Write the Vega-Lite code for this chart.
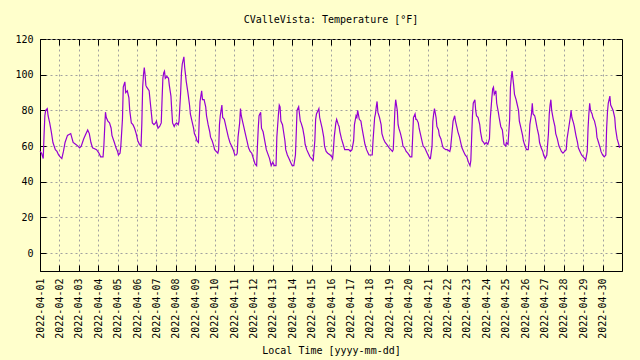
{
"$schema": "https://vega.github.io/schema/vega-lite/v6.json",
"autosize": {"type": "none"},
"padding": {"left": 40, "top": 39, "right": 18, "bottom": 89},
"width": 582, "height": 232,
"background": "#ffffcc",
"title": {"text": "CValleVista: Temperature [°F]", "anchor": "middle", "frame": "group", "offset": 9, "fontSize": 10, "fontWeight": "normal", "font": "DejaVu Sans Mono", "color": "#000000"},
"data": {"values": [
{"t":"2022-04-01T00:00","v":57},{"t":"2022-04-01T02:00","v":56},{"t":"2022-04-01T04:00","v":53},{"t":"2022-04-01T05:00","v":66},{"t":"2022-04-01T06:00","v":77},{"t":"2022-04-01T07:00","v":80},{"t":"2022-04-01T09:00","v":81},{"t":"2022-04-01T10:00","v":77},{"t":"2022-04-01T12:00","v":73},{"t":"2022-04-01T14:00","v":68},{"t":"2022-04-01T16:00","v":62},{"t":"2022-04-01T19:00","v":58},{"t":"2022-04-01T21:00","v":57},{"t":"2022-04-01T23:00","v":55},
{"t":"2022-04-02T01:00","v":54},{"t":"2022-04-02T03:00","v":53},{"t":"2022-04-02T05:00","v":57},{"t":"2022-04-02T07:00","v":62},{"t":"2022-04-02T10:00","v":66},{"t":"2022-04-02T14:00","v":67},{"t":"2022-04-02T17:00","v":62},{"t":"2022-04-02T20:00","v":61},{"t":"2022-04-02T23:00","v":60},
{"t":"2022-04-03T01:00","v":59},{"t":"2022-04-03T03:00","v":60},{"t":"2022-04-03T06:00","v":64},{"t":"2022-04-03T08:00","v":66},{"t":"2022-04-03T11:00","v":69},{"t":"2022-04-03T13:00","v":67},{"t":"2022-04-03T15:00","v":62},{"t":"2022-04-03T17:00","v":59},{"t":"2022-04-03T22:00","v":58},
{"t":"2022-04-04T01:00","v":56},{"t":"2022-04-04T03:00","v":54},{"t":"2022-04-04T06:00","v":54},{"t":"2022-04-04T07:00","v":60},{"t":"2022-04-04T08:00","v":70},{"t":"2022-04-04T09:00","v":79},{"t":"2022-04-04T10:00","v":76},{"t":"2022-04-04T12:00","v":74},{"t":"2022-04-04T14:00","v":73},{"t":"2022-04-04T16:00","v":70},{"t":"2022-04-04T17:00","v":66},{"t":"2022-04-04T20:00","v":62},{"t":"2022-04-04T22:00","v":59},
{"t":"2022-04-05T00:00","v":57},{"t":"2022-04-05T01:00","v":55},{"t":"2022-04-05T03:00","v":56},{"t":"2022-04-05T04:00","v":60},{"t":"2022-04-05T06:00","v":75},{"t":"2022-04-05T07:00","v":93},{"t":"2022-04-05T09:00","v":96},{"t":"2022-04-05T10:00","v":90},{"t":"2022-04-05T12:00","v":91},{"t":"2022-04-05T14:00","v":87},{"t":"2022-04-05T15:00","v":80},{"t":"2022-04-05T17:00","v":73},{"t":"2022-04-05T19:00","v":72},{"t":"2022-04-05T21:00","v":70},{"t":"2022-04-05T23:00","v":67},
{"t":"2022-04-06T01:00","v":63},{"t":"2022-04-06T03:00","v":61},{"t":"2022-04-06T05:00","v":60},{"t":"2022-04-06T06:00","v":73},{"t":"2022-04-06T07:00","v":93},{"t":"2022-04-06T08:00","v":100},{"t":"2022-04-06T09:00","v":104},{"t":"2022-04-06T10:00","v":100},{"t":"2022-04-06T11:00","v":94},{"t":"2022-04-06T12:00","v":93},{"t":"2022-04-06T15:00","v":91},{"t":"2022-04-06T17:00","v":82},{"t":"2022-04-06T19:00","v":73},{"t":"2022-04-06T21:00","v":72},{"t":"2022-04-06T23:00","v":73},
{"t":"2022-04-07T00:00","v":74},{"t":"2022-04-07T02:00","v":70},{"t":"2022-04-07T04:00","v":71},{"t":"2022-04-07T06:00","v":73},{"t":"2022-04-07T07:00","v":86},{"t":"2022-04-07T08:00","v":98},{"t":"2022-04-07T09:00","v":101},{"t":"2022-04-07T10:00","v":102},{"t":"2022-04-07T11:00","v":98},{"t":"2022-04-07T13:00","v":99},{"t":"2022-04-07T15:00","v":98},{"t":"2022-04-07T16:00","v":94},{"t":"2022-04-07T18:00","v":88},{"t":"2022-04-07T19:00","v":80},{"t":"2022-04-07T20:00","v":73},{"t":"2022-04-07T22:00","v":71},{"t":"2022-04-07T23:00","v":72},
{"t":"2022-04-08T01:00","v":73},{"t":"2022-04-08T03:00","v":72},{"t":"2022-04-08T04:00","v":74},{"t":"2022-04-08T06:00","v":90},{"t":"2022-04-08T07:00","v":101},{"t":"2022-04-08T08:00","v":106},{"t":"2022-04-08T10:00","v":110},{"t":"2022-04-08T11:00","v":104},{"t":"2022-04-08T12:00","v":100},{"t":"2022-04-08T13:00","v":96},{"t":"2022-04-08T15:00","v":90},{"t":"2022-04-08T17:00","v":83},{"t":"2022-04-08T18:00","v":78},{"t":"2022-04-08T20:00","v":74},{"t":"2022-04-08T22:00","v":70},{"t":"2022-04-08T23:00","v":67},
{"t":"2022-04-09T01:00","v":65},{"t":"2022-04-09T02:00","v":63},{"t":"2022-04-09T04:00","v":62},{"t":"2022-04-09T05:00","v":75},{"t":"2022-04-09T06:00","v":85},{"t":"2022-04-09T07:00","v":88},{"t":"2022-04-09T08:00","v":91},{"t":"2022-04-09T09:00","v":86},{"t":"2022-04-09T11:00","v":86},{"t":"2022-04-09T13:00","v":82},{"t":"2022-04-09T14:00","v":77},{"t":"2022-04-09T16:00","v":72},{"t":"2022-04-09T18:00","v":68},{"t":"2022-04-09T19:00","v":65},{"t":"2022-04-09T21:00","v":63},{"t":"2022-04-09T23:00","v":60},
{"t":"2022-04-10T00:00","v":58},{"t":"2022-04-10T02:00","v":57},{"t":"2022-04-10T04:00","v":56},{"t":"2022-04-10T05:00","v":58},{"t":"2022-04-10T06:00","v":72},{"t":"2022-04-10T07:00","v":77},{"t":"2022-04-10T08:00","v":80},{"t":"2022-04-10T09:00","v":83},{"t":"2022-04-10T10:00","v":76},{"t":"2022-04-10T12:00","v":75},{"t":"2022-04-10T13:00","v":73},{"t":"2022-04-10T15:00","v":69},{"t":"2022-04-10T17:00","v":65},{"t":"2022-04-10T19:00","v":62},{"t":"2022-04-10T21:00","v":60},{"t":"2022-04-10T23:00","v":58},
{"t":"2022-04-11T01:00","v":55},{"t":"2022-04-11T03:00","v":55},{"t":"2022-04-11T04:00","v":56},{"t":"2022-04-11T05:00","v":65},{"t":"2022-04-11T07:00","v":73},{"t":"2022-04-11T08:00","v":81},{"t":"2022-04-11T09:00","v":77},{"t":"2022-04-11T11:00","v":73},{"t":"2022-04-11T12:00","v":71},{"t":"2022-04-11T14:00","v":67},{"t":"2022-04-11T16:00","v":63},{"t":"2022-04-11T18:00","v":59},{"t":"2022-04-11T20:00","v":57},{"t":"2022-04-11T22:00","v":56},
{"t":"2022-04-12T00:00","v":53},{"t":"2022-04-12T02:00","v":50},{"t":"2022-04-12T04:00","v":49},{"t":"2022-04-12T05:00","v":60},{"t":"2022-04-12T06:00","v":70},{"t":"2022-04-12T07:00","v":77},{"t":"2022-04-12T09:00","v":79},{"t":"2022-04-12T10:00","v":70},{"t":"2022-04-12T12:00","v":68},{"t":"2022-04-12T14:00","v":63},{"t":"2022-04-12T16:00","v":58},{"t":"2022-04-12T20:00","v":53},{"t":"2022-04-12T22:00","v":49},
{"t":"2022-04-13T00:00","v":51},{"t":"2022-04-13T02:00","v":49},{"t":"2022-04-13T04:00","v":49},{"t":"2022-04-13T05:00","v":65},{"t":"2022-04-13T07:00","v":78},{"t":"2022-04-13T08:00","v":83},{"t":"2022-04-13T09:00","v":82},{"t":"2022-04-13T10:00","v":74},{"t":"2022-04-13T12:00","v":72},{"t":"2022-04-13T13:00","v":69},{"t":"2022-04-13T15:00","v":63},{"t":"2022-04-13T16:00","v":58},{"t":"2022-04-13T18:00","v":55},{"t":"2022-04-13T20:00","v":53},{"t":"2022-04-13T22:00","v":51},
{"t":"2022-04-14T00:00","v":49},{"t":"2022-04-14T02:00","v":49},{"t":"2022-04-14T04:00","v":55},{"t":"2022-04-14T05:00","v":67},{"t":"2022-04-14T06:00","v":80},{"t":"2022-04-14T07:00","v":81},{"t":"2022-04-14T08:00","v":82},{"t":"2022-04-14T10:00","v":74},{"t":"2022-04-14T11:00","v":73},{"t":"2022-04-14T13:00","v":70},{"t":"2022-04-14T15:00","v":65},{"t":"2022-04-14T16:00","v":61},{"t":"2022-04-14T18:00","v":58},{"t":"2022-04-14T20:00","v":56},{"t":"2022-04-14T22:00","v":54},
{"t":"2022-04-15T00:00","v":53},{"t":"2022-04-15T02:00","v":52},{"t":"2022-04-15T04:00","v":63},{"t":"2022-04-15T05:00","v":75},{"t":"2022-04-15T06:00","v":78},{"t":"2022-04-15T08:00","v":80},{"t":"2022-04-15T09:00","v":81},{"t":"2022-04-15T10:00","v":76},{"t":"2022-04-15T11:00","v":74},{"t":"2022-04-15T13:00","v":70},{"t":"2022-04-15T15:00","v":65},{"t":"2022-04-15T16:00","v":60},{"t":"2022-04-15T18:00","v":57},{"t":"2022-04-15T20:00","v":56},{"t":"2022-04-15T23:00","v":55},
{"t":"2022-04-16T01:00","v":54},{"t":"2022-04-16T02:00","v":53},{"t":"2022-04-16T03:00","v":58},{"t":"2022-04-16T04:00","v":65},{"t":"2022-04-16T06:00","v":73},{"t":"2022-04-16T07:00","v":75},{"t":"2022-04-16T09:00","v":72},{"t":"2022-04-16T10:00","v":71},{"t":"2022-04-16T11:00","v":68},{"t":"2022-04-16T13:00","v":64},{"t":"2022-04-16T15:00","v":61},{"t":"2022-04-16T17:00","v":58},{"t":"2022-04-16T19:00","v":58},{"t":"2022-04-16T22:00","v":58},
{"t":"2022-04-17T00:00","v":57},{"t":"2022-04-17T02:00","v":58},{"t":"2022-04-17T04:00","v":63},{"t":"2022-04-17T05:00","v":72},{"t":"2022-04-17T07:00","v":77},{"t":"2022-04-17T08:00","v":76},{"t":"2022-04-17T09:00","v":80},{"t":"2022-04-17T11:00","v":75},{"t":"2022-04-17T13:00","v":74},{"t":"2022-04-17T14:00","v":71},{"t":"2022-04-17T16:00","v":66},{"t":"2022-04-17T18:00","v":61},{"t":"2022-04-17T20:00","v":58},{"t":"2022-04-17T22:00","v":56},{"t":"2022-04-17T23:00","v":55},
{"t":"2022-04-18T01:00","v":55},{"t":"2022-04-18T03:00","v":55},{"t":"2022-04-18T04:00","v":63},{"t":"2022-04-18T06:00","v":76},{"t":"2022-04-18T07:00","v":78},{"t":"2022-04-18T08:00","v":82},{"t":"2022-04-18T09:00","v":85},{"t":"2022-04-18T10:00","v":79},{"t":"2022-04-18T12:00","v":76},{"t":"2022-04-18T14:00","v":72},{"t":"2022-04-18T15:00","v":67},{"t":"2022-04-18T17:00","v":64},{"t":"2022-04-18T19:00","v":62},{"t":"2022-04-18T21:00","v":61},
{"t":"2022-04-19T00:00","v":59},{"t":"2022-04-19T02:00","v":58},{"t":"2022-04-19T04:00","v":57},{"t":"2022-04-19T05:00","v":58},{"t":"2022-04-19T06:00","v":68},{"t":"2022-04-19T07:00","v":80},{"t":"2022-04-19T08:00","v":86},{"t":"2022-04-19T10:00","v":80},{"t":"2022-04-19T11:00","v":72},{"t":"2022-04-19T12:00","v":70},{"t":"2022-04-19T14:00","v":67},{"t":"2022-04-19T16:00","v":63},{"t":"2022-04-19T17:00","v":60},{"t":"2022-04-19T19:00","v":59},{"t":"2022-04-19T21:00","v":57},{"t":"2022-04-19T23:00","v":56},
{"t":"2022-04-20T02:00","v":54},{"t":"2022-04-20T04:00","v":54},{"t":"2022-04-20T05:00","v":65},{"t":"2022-04-20T06:00","v":76},{"t":"2022-04-20T08:00","v":78},{"t":"2022-04-20T09:00","v":75},{"t":"2022-04-20T10:00","v":75},{"t":"2022-04-20T12:00","v":73},{"t":"2022-04-20T13:00","v":70},{"t":"2022-04-20T15:00","v":66},{"t":"2022-04-20T17:00","v":62},{"t":"2022-04-20T18:00","v":60},{"t":"2022-04-20T20:00","v":59},{"t":"2022-04-20T22:00","v":57},
{"t":"2022-04-21T00:00","v":55},{"t":"2022-04-21T02:00","v":53},{"t":"2022-04-21T03:00","v":53},{"t":"2022-04-21T05:00","v":60},{"t":"2022-04-21T06:00","v":74},{"t":"2022-04-21T07:00","v":78},{"t":"2022-04-21T08:00","v":81},{"t":"2022-04-21T10:00","v":76},{"t":"2022-04-21T11:00","v":71},{"t":"2022-04-21T13:00","v":69},{"t":"2022-04-21T14:00","v":66},{"t":"2022-04-21T16:00","v":64},{"t":"2022-04-21T18:00","v":60},{"t":"2022-04-21T19:00","v":59},{"t":"2022-04-21T22:00","v":58},
{"t":"2022-04-22T00:00","v":58},{"t":"2022-04-22T03:00","v":57},{"t":"2022-04-22T04:00","v":59},{"t":"2022-04-22T06:00","v":69},{"t":"2022-04-22T07:00","v":74},{"t":"2022-04-22T09:00","v":77},{"t":"2022-04-22T10:00","v":74},{"t":"2022-04-22T12:00","v":70},{"t":"2022-04-22T13:00","v":68},{"t":"2022-04-22T15:00","v":65},{"t":"2022-04-22T17:00","v":61},{"t":"2022-04-22T18:00","v":59},{"t":"2022-04-22T20:00","v":57},{"t":"2022-04-22T22:00","v":55},
{"t":"2022-04-23T00:00","v":54},{"t":"2022-04-23T02:00","v":51},{"t":"2022-04-23T04:00","v":49},{"t":"2022-04-23T05:00","v":52},{"t":"2022-04-23T06:00","v":65},{"t":"2022-04-23T07:00","v":77},{"t":"2022-04-23T08:00","v":84},{"t":"2022-04-23T10:00","v":86},{"t":"2022-04-23T11:00","v":80},{"t":"2022-04-23T12:00","v":77},{"t":"2022-04-23T14:00","v":76},{"t":"2022-04-23T16:00","v":72},{"t":"2022-04-23T17:00","v":68},{"t":"2022-04-23T19:00","v":63},{"t":"2022-04-23T21:00","v":62},{"t":"2022-04-23T22:00","v":61},
{"t":"2022-04-24T00:00","v":62},{"t":"2022-04-24T02:00","v":61},{"t":"2022-04-24T04:00","v":64},{"t":"2022-04-24T05:00","v":75},{"t":"2022-04-24T07:00","v":87},{"t":"2022-04-24T08:00","v":92},{"t":"2022-04-24T09:00","v":93},{"t":"2022-04-24T10:00","v":89},{"t":"2022-04-24T12:00","v":91},{"t":"2022-04-24T13:00","v":84},{"t":"2022-04-24T15:00","v":79},{"t":"2022-04-24T16:00","v":76},{"t":"2022-04-24T18:00","v":71},{"t":"2022-04-24T20:00","v":69},{"t":"2022-04-24T21:00","v":65},{"t":"2022-04-24T22:00","v":61},
{"t":"2022-04-25T00:00","v":60},{"t":"2022-04-25T01:00","v":62},{"t":"2022-04-25T03:00","v":61},{"t":"2022-04-25T05:00","v":75},{"t":"2022-04-25T06:00","v":93},{"t":"2022-04-25T07:00","v":98},{"t":"2022-04-25T08:00","v":102},{"t":"2022-04-25T10:00","v":94},{"t":"2022-04-25T11:00","v":89},{"t":"2022-04-25T13:00","v":86},{"t":"2022-04-25T14:00","v":84},{"t":"2022-04-25T16:00","v":80},{"t":"2022-04-25T17:00","v":74},{"t":"2022-04-25T19:00","v":70},{"t":"2022-04-25T21:00","v":66},{"t":"2022-04-25T22:00","v":63},
{"t":"2022-04-26T00:00","v":60},{"t":"2022-04-26T02:00","v":58},{"t":"2022-04-26T04:00","v":58},{"t":"2022-04-26T05:00","v":63},{"t":"2022-04-26T06:00","v":72},{"t":"2022-04-26T08:00","v":78},{"t":"2022-04-26T09:00","v":84},{"t":"2022-04-26T10:00","v":78},{"t":"2022-04-26T12:00","v":77},{"t":"2022-04-26T13:00","v":75},{"t":"2022-04-26T15:00","v":70},{"t":"2022-04-26T17:00","v":66},{"t":"2022-04-26T18:00","v":62},{"t":"2022-04-26T20:00","v":59},{"t":"2022-04-26T22:00","v":57},{"t":"2022-04-26T23:00","v":55},
{"t":"2022-04-27T01:00","v":53},{"t":"2022-04-27T03:00","v":55},{"t":"2022-04-27T05:00","v":67},{"t":"2022-04-27T06:00","v":78},{"t":"2022-04-27T07:00","v":83},{"t":"2022-04-27T08:00","v":86},{"t":"2022-04-27T09:00","v":80},{"t":"2022-04-27T11:00","v":75},{"t":"2022-04-27T13:00","v":71},{"t":"2022-04-27T14:00","v":67},{"t":"2022-04-27T16:00","v":64},{"t":"2022-04-27T18:00","v":60},{"t":"2022-04-27T19:00","v":59},{"t":"2022-04-27T21:00","v":57},{"t":"2022-04-27T23:00","v":56},
{"t":"2022-04-28T01:00","v":57},{"t":"2022-04-28T03:00","v":58},{"t":"2022-04-28T04:00","v":64},{"t":"2022-04-28T06:00","v":70},{"t":"2022-04-28T08:00","v":76},{"t":"2022-04-28T09:00","v":80},{"t":"2022-04-28T10:00","v":76},{"t":"2022-04-28T12:00","v":73},{"t":"2022-04-28T13:00","v":71},{"t":"2022-04-28T15:00","v":66},{"t":"2022-04-28T17:00","v":62},{"t":"2022-04-28T18:00","v":59},{"t":"2022-04-28T20:00","v":57},{"t":"2022-04-28T22:00","v":55},
{"t":"2022-04-29T00:00","v":54},{"t":"2022-04-29T02:00","v":53},{"t":"2022-04-29T03:00","v":52},{"t":"2022-04-29T05:00","v":57},{"t":"2022-04-29T06:00","v":70},{"t":"2022-04-29T07:00","v":78},{"t":"2022-04-29T08:00","v":84},{"t":"2022-04-29T09:00","v":80},{"t":"2022-04-29T11:00","v":78},{"t":"2022-04-29T12:00","v":76},{"t":"2022-04-29T14:00","v":74},{"t":"2022-04-29T16:00","v":70},{"t":"2022-04-29T17:00","v":65},{"t":"2022-04-29T19:00","v":62},{"t":"2022-04-29T21:00","v":59},{"t":"2022-04-29T22:00","v":57},
{"t":"2022-04-30T00:00","v":55},{"t":"2022-04-30T02:00","v":54},{"t":"2022-04-30T04:00","v":55},{"t":"2022-04-30T05:00","v":70},{"t":"2022-04-30T06:00","v":79},{"t":"2022-04-30T07:00","v":84},{"t":"2022-04-30T09:00","v":88},{"t":"2022-04-30T10:00","v":83},{"t":"2022-04-30T11:00","v":82},{"t":"2022-04-30T13:00","v":80},{"t":"2022-04-30T15:00","v":76},{"t":"2022-04-30T16:00","v":70},{"t":"2022-04-30T18:00","v":64},{"t":"2022-04-30T20:00","v":61},{"t":"2022-04-30T21:00","v":59}
]},
"layer": [
{"mark": {"type": "line", "color": "#9400d3", "strokeWidth": 1.2},
 "encoding": {
  "x": {"field": "t", "type": "temporal",
        "scale": {"domain": [{"year":2022,"month":4,"date":1},{"year":2022,"month":5,"date":1}], "nice": false},
        "axis": {"orient": "bottom", "values": [{"year":2022,"month":4,"date":1},{"year":2022,"month":4,"date":2},{"year":2022,"month":4,"date":3},{"year":2022,"month":4,"date":4},{"year":2022,"month":4,"date":5},{"year":2022,"month":4,"date":6},{"year":2022,"month":4,"date":7},{"year":2022,"month":4,"date":8},{"year":2022,"month":4,"date":9},{"year":2022,"month":4,"date":10},{"year":2022,"month":4,"date":11},{"year":2022,"month":4,"date":12},{"year":2022,"month":4,"date":13},{"year":2022,"month":4,"date":14},{"year":2022,"month":4,"date":15},{"year":2022,"month":4,"date":16},{"year":2022,"month":4,"date":17},{"year":2022,"month":4,"date":18},{"year":2022,"month":4,"date":19},{"year":2022,"month":4,"date":20},{"year":2022,"month":4,"date":21},{"year":2022,"month":4,"date":22},{"year":2022,"month":4,"date":23},{"year":2022,"month":4,"date":24},{"year":2022,"month":4,"date":25},{"year":2022,"month":4,"date":26},{"year":2022,"month":4,"date":27},{"year":2022,"month":4,"date":28},{"year":2022,"month":4,"date":29},{"year":2022,"month":4,"date":30}],
                 "format": "%Y-%m-%d", "labelAngle": 270, "labelAlign": "right", "labelBaseline": "middle", "labelOverlap": false, "labelFlush": false,
                 "title": "Local Time [yyyy-mm-dd]", "titlePadding": 7, "grid": true}},
  "y": {"field": "v", "type": "quantitative",
        "scale": {"domain": [-10, 120], "nice": false, "zero": false},
        "axis": {"orient": "left", "values": [0,20,40,60,80,100,120], "title": null, "grid": true, "labelFlush": false}}
 }},
{"mark": {"type": "line", "opacity": 0},
 "encoding": {
  "x": {"field": "t", "type": "temporal",
        "axis": {"orient": "top", "values": [{"year":2022,"month":4,"date":1},{"year":2022,"month":4,"date":2},{"year":2022,"month":4,"date":3},{"year":2022,"month":4,"date":4},{"year":2022,"month":4,"date":5},{"year":2022,"month":4,"date":6},{"year":2022,"month":4,"date":7},{"year":2022,"month":4,"date":8},{"year":2022,"month":4,"date":9},{"year":2022,"month":4,"date":10},{"year":2022,"month":4,"date":11},{"year":2022,"month":4,"date":12},{"year":2022,"month":4,"date":13},{"year":2022,"month":4,"date":14},{"year":2022,"month":4,"date":15},{"year":2022,"month":4,"date":16},{"year":2022,"month":4,"date":17},{"year":2022,"month":4,"date":18},{"year":2022,"month":4,"date":19},{"year":2022,"month":4,"date":20},{"year":2022,"month":4,"date":21},{"year":2022,"month":4,"date":22},{"year":2022,"month":4,"date":23},{"year":2022,"month":4,"date":24},{"year":2022,"month":4,"date":25},{"year":2022,"month":4,"date":26},{"year":2022,"month":4,"date":27},{"year":2022,"month":4,"date":28},{"year":2022,"month":4,"date":29},{"year":2022,"month":4,"date":30}],
                 "labels": false, "title": null, "grid": false, "domain": false}},
  "y": {"field": "v", "type": "quantitative",
        "axis": {"orient": "right", "values": [0,20,40,60,80,100,120], "labels": false, "title": null, "grid": false, "domain": false}}
 }}
],
"resolve": {"axis": {"x": "independent", "y": "independent"}},
"config": {
  "background": "#ffffcc",
  "view": {"stroke": "#000000", "strokeWidth": 1, "fill": "#ffffcc"},
  "font": "DejaVu Sans Mono",
  "axis": {"labelFont": "DejaVu Sans Mono", "labelFontSize": 10, "labelColor": "#000000",
           "titleFont": "DejaVu Sans Mono", "titleFontSize": 10, "titleFontWeight": "normal", "titleColor": "#000000",
           "gridColor": "#a0a0a0", "gridDash": [2, 3], "gridOpacity": 1, "gridWidth": 1,
           "domainColor": "#000000", "domainWidth": 1, "tickColor": "#000000", "tickWidth": 1, "tickSize": -6, "labelPadding": 13}
}
}
